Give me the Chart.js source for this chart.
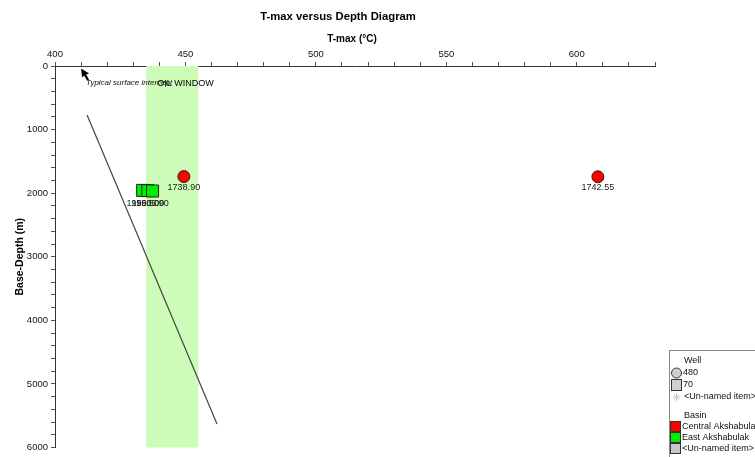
<!DOCTYPE html>
<html>
<head>
<meta charset="utf-8">
<script src="https://cdn.jsdelivr.net/npm/chart.js@4.4.1/dist/chart.umd.min.js"></script>
<style>
  html, body { margin: 0; padding: 0; background: #fff; overflow: hidden; }
  #wrap { position: relative; width: 755px; height: 457px; }
</style>
</head>
<body>
<div id="wrap"><canvas id="chart" width="755" height="457"></canvas></div>
<script>
// T-max (°C) and base depth (m) of samples, by basin
const centralTmax  = [449.4, 608.1];
const centralDepth = [1738.90, 1742.55];
const eastTmax     = [433.6, 435.6, 437.4];
const eastDepth    = [1956.50, 1960.00, 1965.90];

// Maturity trend line (T-max vs depth)
const trendTmax  = [412.3, 462.1];
const trendDepth = [770, 5630];

// Oil window T-max range
const oilWindow = [435, 455];

// Typical surface intercept marker
const interceptTmax = 410;
const interceptDepth = 40;

// Axis ranges and labelled ticks
const tmaxRange  = [400, 630];
const depthRange = [0, 6000];
const tmaxLabelled  = [400, 450, 500, 550, 600];
const depthLabelled = [0, 1000, 2000, 3000, 4000, 5000, 6000];

const FONT = "'Liberation Sans', Arial, sans-serif";

const toPts = (xs, ys) => xs.map((x, i) => ({ x: x, y: ys[i] }));

// Green band for the oil window
const bandPlugin = {
  id: 'oilBand',
  beforeDatasetsDraw(chart) {
    const { ctx, scales: { x, y } } = chart;
    const x0 = x.getPixelForValue(oilWindow[0]);
    const x1 = x.getPixelForValue(oilWindow[1]);
    const y0 = y.getPixelForValue(depthRange[0]);
    const y1 = y.getPixelForValue(depthRange[1]);
    ctx.save();
    ctx.fillStyle = '#ccfcb8';
    ctx.fillRect(x0, y0, x1 - x0, y1 - y0);
    ctx.restore();
  }
};

// Titles, annotations, point labels and legend
const decorPlugin = {
  id: 'decor',
  afterDatasetsDraw(chart) {
    const { ctx, scales: { x, y } } = chart;
    ctx.save();

    // depth labels under points
    ctx.fillStyle = '#222';
    ctx.font = '9px ' + FONT;
    ctx.textAlign = 'center';
    ctx.textBaseline = 'middle';
    centralTmax.forEach((t, i) => {
      ctx.fillText(centralDepth[i].toFixed(2), x.getPixelForValue(t), y.getPixelForValue(centralDepth[i]) + 11);
    });
    eastTmax.forEach((t, i) => {
      ctx.fillText(eastDepth[i].toFixed(2), x.getPixelForValue(t), y.getPixelForValue(eastDepth[i]) + 13);
    });

    // surface intercept arrow
    const ax = x.getPixelForValue(interceptTmax);
    const ay = y.getPixelForValue(interceptDepth);
    ctx.fillStyle = '#000';
    ctx.beginPath();
    ctx.moveTo(ax, ay);
    ctx.lineTo(ax + 1, ay + 9);
    ctx.lineTo(ax + 3, ay + 7);
    ctx.lineTo(ax + 6, ay + 12);
    ctx.lineTo(ax + 8, ay + 11);
    ctx.lineTo(ax + 5, ay + 6);
    ctx.lineTo(ax + 8, ay + 5);
    ctx.closePath();
    ctx.fill();

    ctx.textAlign = 'left';
    ctx.fillStyle = '#111';
    ctx.font = 'italic 8px ' + FONT;
    ctx.fillText('Typical surface intercept', ax + 5, ay + 14);

    ctx.textAlign = 'center';
    ctx.font = '9px ' + FONT;
    ctx.fillStyle = '#000';
    ctx.fillText('OIL WINDOW', x.getPixelForValue(450), ay + 15);

    // titles
    ctx.font = 'bold 11.3px ' + FONT;
    ctx.fillText('T-max versus Depth Diagram', 338, 17);
    ctx.font = 'bold 10px ' + FONT;
    ctx.fillText('T-max (°C)', 352, 39);
    ctx.save();
    ctx.translate(20, (y.top + y.bottom) / 2);
    ctx.rotate(-Math.PI / 2);
    ctx.font = 'bold 10.5px ' + FONT;
    ctx.fillText('Base-Depth (m)', 0, 0);
    ctx.restore();

    // legend
    const lx = 669, ly = 350;
    ctx.fillStyle = '#fff';
    ctx.fillRect(lx, ly, 120, 120);
    ctx.strokeStyle = '#888';
    ctx.lineWidth = 1;
    ctx.strokeRect(lx + 0.5, ly + 0.5, 120, 120);

    ctx.textAlign = 'left';
    ctx.fillStyle = '#111';
    ctx.font = '9px ' + FONT;
    ctx.fillText('Well', 684, 361);
    // circle
    ctx.beginPath();
    ctx.arc(676.5, 373, 5, 0, Math.PI * 2);
    ctx.fillStyle = '#d0d0d0';
    ctx.fill();
    ctx.strokeStyle = '#333';
    ctx.stroke();
    ctx.fillStyle = '#111';
    ctx.fillText('480', 683, 373);
    // square
    ctx.fillStyle = '#d0d0d0';
    ctx.fillRect(671.5, 379.5, 10, 11);
    ctx.strokeRect(671.5, 379.5, 10, 11);
    ctx.fillStyle = '#111';
    ctx.fillText('70', 683, 385);
    // asterisk
    ctx.strokeStyle = '#c8c8c8';
    ctx.beginPath();
    for (let k = 0; k < 4; k++) {
      const a = k * Math.PI / 4;
      ctx.moveTo(676.5 - 4 * Math.cos(a), 397 - 4 * Math.sin(a));
      ctx.lineTo(676.5 + 4 * Math.cos(a), 397 + 4 * Math.sin(a));
    }
    ctx.stroke();
    ctx.fillStyle = '#111';
    ctx.fillText('<Un-named item>', 684, 397);

    ctx.fillText('Basin', 684, 416);
    const basins = [['#ff0000', 'Central Akshabulak', 427], ['#00ee00', 'East Akshabulak', 438], ['#c8c8c8', '<Un-named item>', 449]];
    ctx.strokeStyle = '#333';
    basins.forEach(b => {
      ctx.fillStyle = b[0];
      ctx.fillRect(670.5, b[2] - 5.5, 10, 10);
      ctx.strokeRect(670.5, b[2] - 5.5, 10, 10);
      ctx.fillStyle = '#111';
      ctx.fillText(b[1], 682, b[2]);
    });

    ctx.restore();
  }
};

new Chart(document.getElementById('chart'), {
  type: 'scatter',
  data: {
    datasets: [
      {
        type: 'line',
        label: 'Trend',
        data: toPts(trendTmax, trendDepth),
        borderColor: '#444',
        borderWidth: 1.2,
        pointRadius: 0,
        fill: false
      },
      {
        label: 'Central Akshabulak',
        data: toPts(centralTmax, centralDepth),
        backgroundColor: '#ff0000',
        borderColor: '#222',
        borderWidth: 1,
        pointStyle: 'circle',
        pointRadius: 6
      },
      {
        label: 'East Akshabulak',
        data: toPts(eastTmax, eastDepth),
        backgroundColor: '#00ee00',
        borderColor: '#222',
        borderWidth: 1,
        pointStyle: 'rect',
        pointRadius: 8.5
      }
    ]
  },
  options: {
    responsive: false,
    animation: false,
    events: [],
    layout: { padding: { left: 0, right: 100, top: 0, bottom: 8 } },
    plugins: { legend: { display: false }, title: { display: false }, tooltip: { enabled: false } },
    scales: {
      x: {
        type: 'linear',
        position: 'top',
        min: tmaxRange[0],
        max: tmaxRange[1],
        afterFit(s) { s.height = 66; },
        border: { display: true, color: '#333', width: 1 },
        grid: { display: true, drawOnChartArea: false, drawTicks: true, tickLength: 4, color: '#555' },
        ticks: {
          stepSize: 10,
          autoSkip: false,
          maxRotation: 0,
          padding: 2,
          color: '#111',
          font: { family: FONT, size: 9.5 },
          callback: v => tmaxLabelled.includes(v) ? String(v) : ''
        }
      },
      y: {
        type: 'linear',
        reverse: true,
        min: depthRange[0],
        max: depthRange[1],
        afterFit(s) { s.width = 55; },
        border: { display: true, color: '#333', width: 1 },
        grid: { display: true, drawOnChartArea: false, drawTicks: true, tickLength: 4, color: '#555' },
        ticks: {
          stepSize: 200,
          autoSkip: false,
          padding: 3,
          color: '#111',
          font: { family: FONT, size: 9.5 },
          callback: v => depthLabelled.includes(v) ? String(v) : ''
        }
      }
    }
  },
  plugins: [bandPlugin, decorPlugin]
});
</script>
</body>
</html>
